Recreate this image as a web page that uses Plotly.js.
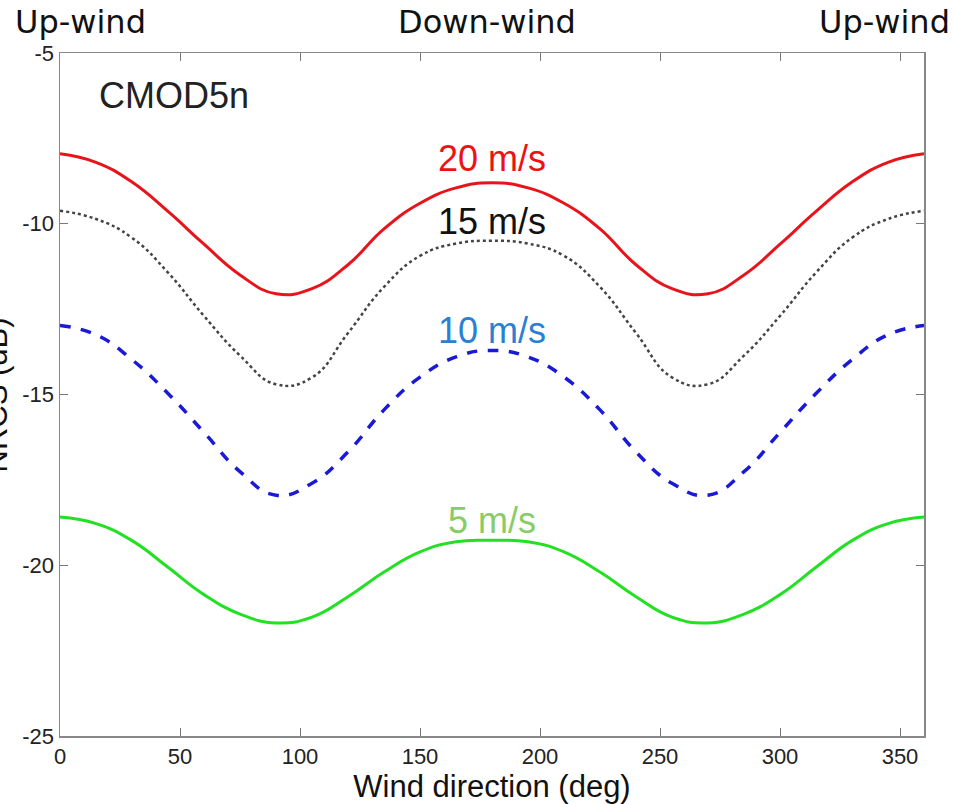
<!DOCTYPE html>
<html>
<head>
<meta charset="utf-8">
<script src="https://cdn.plot.ly/plotly-3.0.1.min.js"></script>
<style>html,body{margin:0;padding:0;background:#fff;}#chart{width:953px;height:804px;}</style>
</head>
<body>
<div id="chart"></div>
<script>
// Wind direction (deg)
const direction = [0,15,30,45,60,75,90,105,120,135,150,165,180,195,210,225,240,255,270,285,300,315,330,345,360];
// NRCS (dB) for each wind speed
const nrcs20 = [-7.95,-8.2,-8.78,-9.64,-10.6,-11.5,-12.05,-11.9,-11.2,-10.15,-9.4,-8.95,-8.8,-8.95,-9.4,-10.15,-11.2,-11.9,-12.05,-11.5,-10.6,-9.64,-8.78,-8.2,-7.95];
const nrcs15 = [-9.62,-9.86,-10.41,-11.43,-12.7,-13.86,-14.7,-14.5,-13.2,-11.85,-10.94,-10.58,-10.5,-10.58,-10.94,-11.85,-13.2,-14.5,-14.7,-13.86,-12.7,-11.43,-10.41,-9.86,-9.62];
const nrcs10 = [-12.98,-13.25,-13.98,-14.97,-16.11,-17.26,-17.95,-17.6,-16.68,-15.45,-14.49,-13.9,-13.71,-13.9,-14.49,-15.45,-16.68,-17.6,-17.95,-17.26,-16.11,-14.97,-13.98,-13.25,-12.98];
const nrcs5 = [-18.59,-18.78,-19.28,-20.06,-20.86,-21.43,-21.69,-21.52,-20.92,-20.2,-19.61,-19.31,-19.27,-19.31,-19.61,-20.2,-20.92,-21.52,-21.69,-21.43,-20.86,-20.06,-19.28,-18.78,-18.59];
const speedLabels = ['20 m/s','15 m/s','10 m/s','5 m/s'];
const topLabels = ['Up-wind','Down-wind','Up-wind'];
const xTicks = [0,50,100,150,200,250,300,350];
const yTicks = [-25,-20,-15,-10,-5];
const yTickText = ['-25','-20','-15','-10','-5'];

const traces = [
  {x: direction, y: nrcs20, mode:'lines', line:{color:'#e8141b', width:3, shape:'spline', smoothing:1.3}},
  {x: direction, y: nrcs15, mode:'lines', line:{color:'#444444', width:2.5, dash:'dot', shape:'spline', smoothing:1.3}},
  {x: direction, y: nrcs10, mode:'lines', line:{color:'#1a1ad6', width:3.5, dash:'dash', shape:'spline', smoothing:1.3}},
  {x: direction, y: nrcs5, mode:'lines', line:{color:'#22e022', width:3, shape:'spline', smoothing:1.3}}
];

const fnt = 'Liberation Sans, Arial, sans-serif';
const topFnt = 'DejaVu Sans, Verdana, sans-serif';
const annotations = [
  {text:'CMOD5n', x:0.043, y:0.938, xref:'paper', yref:'paper', xanchor:'left', yanchor:'middle', showarrow:false, font:{family:fnt, size:36, color:'#222'}},
  {text:speedLabels[0], x:180, y:-8.1, xref:'x', yref:'y', xanchor:'center', yanchor:'middle', showarrow:false, font:{family:fnt, size:36, color:'#ee1111'}},
  {text:speedLabels[1], x:180, y:-9.92, xref:'x', yref:'y', xanchor:'center', yanchor:'middle', showarrow:false, font:{family:fnt, size:36, color:'#111111'}},
  {text:speedLabels[2], x:180, y:-13.13, xref:'x', yref:'y', xanchor:'center', yanchor:'middle', showarrow:false, font:{family:fnt, size:36, color:'#2a80d2'}},
  {text:speedLabels[3], x:180, y:-18.68, xref:'x', yref:'y', xanchor:'center', yanchor:'middle', showarrow:false, font:{family:fnt, size:36, color:'#88cc66'}},
  {text:topLabels[0], x:0.0243, y:1.045, xref:'paper', yref:'paper', xanchor:'center', yanchor:'middle', showarrow:false, font:{family:topFnt, size:32, color:'#111'}},
  {text:topLabels[1], x:0.494, y:1.045, xref:'paper', yref:'paper', xanchor:'center', yanchor:'middle', showarrow:false, font:{family:topFnt, size:32, color:'#111'}},
  {text:topLabels[2], x:0.954, y:1.045, xref:'paper', yref:'paper', xanchor:'center', yanchor:'middle', showarrow:false, font:{family:topFnt, size:32, color:'#111'}},
  {text:'NRCS (dB)', x:-0.073, y:0.5, xref:'paper', yref:'paper', xanchor:'center', yanchor:'middle', textangle:-90, showarrow:false, font:{family:fnt, size:31, color:'#111'}}
];

const layout = {
  width:953, height:804,
  margin:{l:60, r:29, t:53, b:68, pad:0},
  paper_bgcolor:'#fff', plot_bgcolor:'#fff',
  showlegend:false,
  xaxis:{range:[0,360], tickvals:xTicks, ticks:'inside', ticklen:8, tickcolor:'#777', tickwidth:1,
         showline:true, linecolor:'#888', linewidth:1.5, mirror:'ticks', showgrid:false, zeroline:false,
         tickfont:{family:fnt, size:22, color:'#222'},
         title:{text:'Wind direction (deg)', font:{family:fnt, size:31, color:'#111'}, standoff:0}},
  yaxis:{range:[-25,-5], tickvals:yTicks, ticktext:yTickText, ticks:'inside', ticklen:8, tickcolor:'#777', tickwidth:1,
         showline:true, linecolor:'#888', linewidth:1.5, mirror:'ticks', showgrid:false, zeroline:false,
         tickfont:{family:fnt, size:22, color:'#222'}},
  annotations: annotations
};

Plotly.newPlot('chart', traces, layout, {displayModeBar:false, staticPlot:true});
</script>
</body>
</html>
